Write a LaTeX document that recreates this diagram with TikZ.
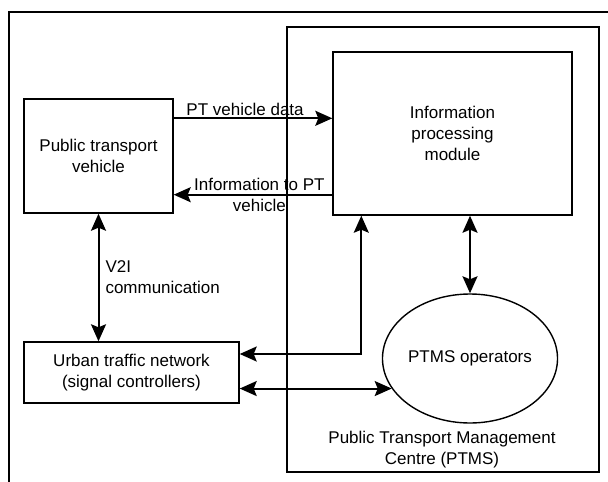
\documentclass[tikz,border=0pt]{standalone}
\usepackage{fontspec}
\setmainfont{Liberation Sans}
\usetikzlibrary{arrows.meta, shapes.geometric}

\begin{document}
\begin{tikzpicture}[
      x=1pt, y=-1pt,
      every node/.style={font=\fontsize{17}{21}\selectfont, align=center},
      box/.style={draw, line width=1.4pt, inner sep=0pt},
      arrow/.style={-{Stealth[length=17pt, width=15pt, inset=3pt]}, line width=2pt},
      dblarrow/.style={{Stealth[length=17pt, width=15pt, inset=3pt]}-{Stealth[length=17pt, width=15pt, inset=3pt]}, line width=2pt},
    ]
    \useasboundingbox (0,0) rectangle (608,482);
    % Rahmen (oben und links)
    \draw[line width=1.4pt] (9,482) -- (9,12) -- (608,12);

    \node[box, minimum width=312pt, minimum height=445pt] (ptms) at (443,249.5) {};
    \node (ptmslabel) at (442,450) {Public Transport Management\\Centre (PTMS)};

    \node[box, minimum width=239pt, minimum height=163pt] (info) at (452.5,133.5)
      {Information\\processing\\module};
    \node[box, minimum width=149pt, minimum height=114pt] (vehicle) at (98.5,156)
      {Public transport\\vehicle};
    \node[box, minimum width=215pt, minimum height=61pt] (urban) at (131.5,372.5)
      {Urban traffic network\\(signal controllers)};
    \node[draw, ellipse, line width=1.4pt, minimum width=168pt, minimum height=129pt,
      inner sep=0pt] (ops) at (470,358.5) {PTMS operators};

    \draw[arrow] ([yshift=-20pt]vehicle.north east) --
      node[above, pos=0.45, inner sep=2pt]{PT vehicle data}
      ([yshift=-20pt]vehicle.north east -| info.west);
    \draw[arrow] ([yshift=19pt]vehicle.south east -| info.west) --
      node[pos=0.46]{Information to PT\\vehicle}
      ([yshift=19pt]vehicle.south east);

    \draw[dblarrow] (vehicle.south) --
      node[right, align=left, inner sep=6pt]{V2I\\communication}
      (vehicle.south |- urban.north);
    \draw[dblarrow] ([xshift=29pt]info.south west) |- ([yshift=18.5pt]urban.east);
    \draw[dblarrow] (ops.201.5 -| urban.east) -- (ops.201.5);
    \draw[dblarrow] (ops.north |- info.south) -- (ops.north);
  \end{tikzpicture}
\end{document}
